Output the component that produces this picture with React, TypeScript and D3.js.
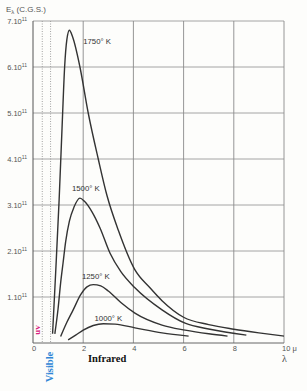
import React from "react";
import * as d3 from "d3";

const yTicks = [1, 2, 3, 4, 5, 6, 7];
const xGrid = [2, 4, 6, 8, 10];
const xTickLabels = ["0", "2", "4", "6", "8"];
const xTickValues = [0, 2, 4, 6, 8];
const visibleBounds = [0.37, 0.7];

const curveNames = ["1750° K", "1500° K", "1250° K", "1000° K"];
const curve1750: [number, number][] = [
  [0.78, 0.2], [0.9, 1.5], [1.04, 3.1], [1.17, 4.85], [1.26, 6.0], [1.35, 6.6],
  [1.45, 6.8], [1.58, 6.65], [1.87, 6.0], [2.2, 5.0], [2.6, 4.0], [2.95, 3.2],
  [3.4, 2.45], [4.05, 1.6], [4.66, 1.2], [5.14, 0.92], [6.0, 0.56], [7.0, 0.4],
  [8.0, 0.3], [9.0, 0.22], [10.0, 0.15],
];
const curve1500: [number, number][] = [
  [0.87, 0.2], [1.0, 0.75], [1.1, 1.3], [1.2, 1.75], [1.3, 2.2], [1.45, 2.65],
  [1.63, 2.95], [1.87, 3.15], [2.05, 3.08], [2.35, 2.85], [2.67, 2.5], [3.07, 1.95],
  [3.5, 1.55], [4.06, 1.2], [5.14, 0.72], [6.06, 0.43], [7.05, 0.3], [8.5, 0.17],
];
const curve1250: [number, number][] = [
  [1.1, 0.14], [1.35, 0.45], [1.6, 0.72], [1.9, 1.05], [2.15, 1.22], [2.4, 1.27],
  [2.7, 1.24], [3.0, 1.13], [3.5, 0.88], [4.06, 0.65], [5.14, 0.39], [6.06, 0.28],
  [7.0, 0.2], [7.75, 0.15],
];
const curve1000: [number, number][] = [
  [1.4, 0.07], [1.7, 0.17], [2.0, 0.28], [2.4, 0.38], [2.8, 0.42], [3.27, 0.41],
  [4.06, 0.33], [5.14, 0.22], [6.2, 0.15],
];
const curves = [curve1750, curve1500, curve1250, curve1000];
const labelAnchors: [number, number][] = [[2.0, 6.5], [1.55, 3.3], [1.95, 1.4], [2.45, 0.48]];

export default function App() {
  const x = d3.scaleLinear().domain([0, 10]).range([33, 284]);
  const y = d3.scaleLinear().domain([0, 7]).range([343, 21]);
  const line = d3
    .line<[number, number]>()
    .x((d) => x(d[0]))
    .y((d) => y(d[1]))
    .curve(d3.curveMonotoneX);
  const sans = "Liberation Sans, Arial, sans-serif";
  const serif = "Liberation Serif, Times New Roman, serif";
  return (
    <svg
      width={307}
      height={391}
      style={{ position: "absolute", left: 0, top: 0, background: "#fdfdfb" }}
    >
      {yTicks.map((t) => (
        <line key={"h" + t} x1={x(0)} x2={x(10)} y1={y(t)} y2={y(t)} stroke="#9a9a9a" strokeWidth={0.9} />
      ))}
      {xGrid.map((t) => (
        <line key={"v" + t} x1={x(t)} x2={x(t)} y1={y(7)} y2={y(0)} stroke="#8a8a8a" strokeWidth={0.9} />
      ))}
      {visibleBounds.map((t) => (
        <line key={"d" + t} x1={x(t)} x2={x(t)} y1={y(7)} y2={y(0)} stroke="#999" strokeWidth={0.9} strokeDasharray="1,1.5" />
      ))}
      <line x1={x(0)} x2={x(0)} y1={y(7)} y2={y(0)} stroke="#555" strokeWidth={1} />
      <line x1={x(0)} x2={x(10)} y1={y(0)} y2={y(0)} stroke="#666" strokeWidth={1} />
      {yTicks.map((t) => (
        <text key={"yl" + t} x={27} y={y(t) + 2.5} textAnchor="end" fontSize={7.5} fontFamily={sans} fill="#555">
          {t + ".10"}
          <tspan fontSize={5} dy={-3}>11</tspan>
        </text>
      ))}
      {xTickValues.map((t, i) => (
        <text key={"xl" + t} x={x(t) + 1} y={351} textAnchor="middle" fontSize={7.5} fontFamily={sans} fill="#555">
          {xTickLabels[i]}
        </text>
      ))}
      <text x={282} y={351} fontSize={7.5} fontFamily={sans} fill="#555">10 μ</text>
      <text x={282} y={362} fontSize={10} fontFamily={serif} fill="#444">λ</text>
      <text x={6} y={12} fontSize={8} fontFamily={sans} fill="#555">
        E<tspan fontSize={6} dy={2}>λ</tspan>
        <tspan dy={-2}> (C.G.S.)</tspan>
      </text>
      {curves.map((c, i) => (
        <path key={"c" + i} d={line(c) || ""} fill="none" stroke="#333" strokeWidth={1.4} />
      ))}
      {curveNames.map((n, i) => (
        <text key={"n" + i} x={x(labelAnchors[i][0])} y={y(labelAnchors[i][1])} fontSize={7.8} fontFamily={sans} fill="#333">
          {n}
        </text>
      ))}
      <text
        transform={`translate(40,330) rotate(-90)`}
        textAnchor="middle"
        fontSize={9}
        fontWeight="bold"
        fontFamily={serif}
        fill="#d8207e"
      >
        uv
      </text>
      <text
        transform={`translate(52.5,367) rotate(-90)`}
        textAnchor="middle"
        fontSize={10.5}
        fontWeight="bold"
        fontFamily={serif}
        fill="#2f86d6"
      >
        Visible
      </text>
      <text x={88} y={362} fontSize={10.5} fontWeight="bold" fontFamily={serif} fill="#111">
        Infrared
      </text>
    </svg>
  );
}
